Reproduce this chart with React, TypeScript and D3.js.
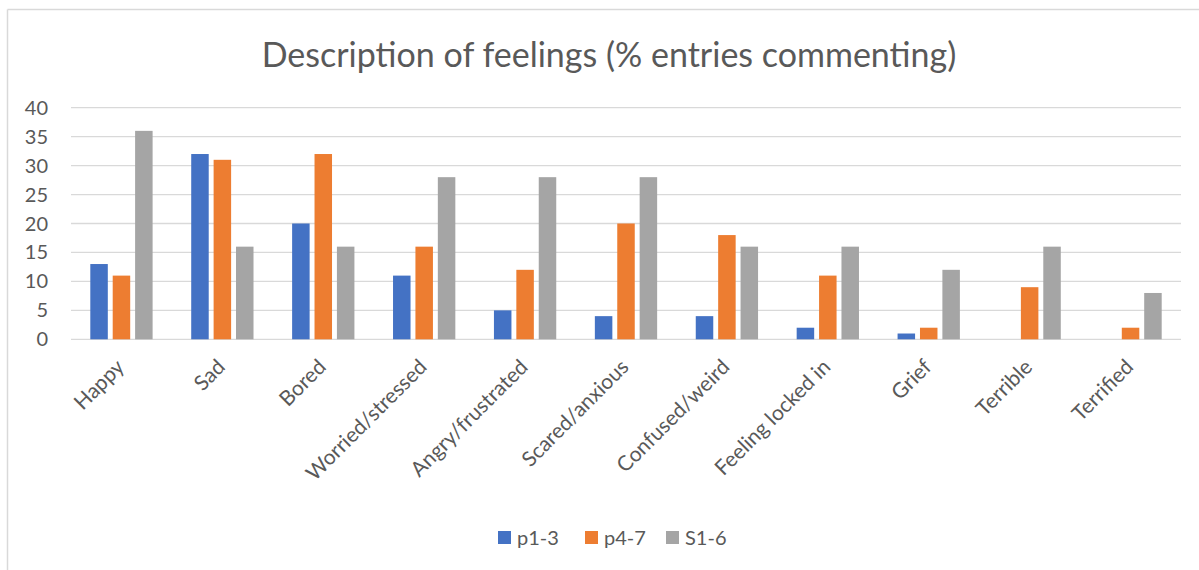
import React from "react";
import * as d3 from "d3";

const categories = [
  "Happy",
  "Sad",
  "Bored",
  "Worried/stressed",
  "Angry/frustrated",
  "Scared/anxious",
  "Confused/weird",
  "Feeling locked in",
  "Grief",
  "Terrible",
  "Terrified",
];
const seriesNames = ["p1-3", "p4-7", "S1-6"];
const p13 = [13, 32, 20, 11, 5, 4, 4, 2, 1, 0, 0];
const p47 = [11, 31, 32, 16, 12, 20, 18, 11, 2, 9, 2];
const s16 = [36, 16, 16, 28, 28, 28, 16, 16, 12, 16, 8];
const seriesValues = [p13, p47, s16];
const colors = ["#4472C4", "#ED7D31", "#A5A5A5"];
const yTicks = [0, 5, 10, 15, 20, 25, 30, 35, 40];
const title = "Description of feelings (% entries commenting)";

const W = 1199;
const H = 570;
const FONT = "Lato, 'Open Sans', sans-serif";
const TEXT = "#595959";
const GRID = "#d9d9d9";

export default function App() {
  const plotLeft = 71;
  const plotRight = 1181;
  const plotTop = 107.7;
  const plotBottom = 339.3;

  const x = d3
    .scaleBand<string>()
    .domain(categories)
    .range([plotLeft, plotRight])
    .paddingInner(0)
    .paddingOuter(0);
  const y = d3.scaleLinear().domain([0, 40]).range([plotBottom, plotTop]);

  const bw = x.bandwidth();
  const barW = 17.5;
  const step = 22.4;
  const groupW = step * 2 + barW;

  const legendItems = [
    { sq: 498, tx: 517 },
    { sq: 585, tx: 604 },
    { sq: 666, tx: 685 },
  ];

  return (
    <svg
      width={W}
      height={H}
      style={{ position: "absolute", left: 0, top: 0, background: "#fff" }}
      fontFamily={FONT}
    >
      <rect x={0} y={0} width={W} height={H} fill="#fff" />
      {/* chart border */}
      <line x1={7.5} x2={W} y1={9.5} y2={9.5} stroke={GRID} strokeWidth={1.5} />
      <line x1={7.5} x2={7.5} y1={9.5} y2={H} stroke={GRID} strokeWidth={1.5} />

      <text x={609} y={67} textAnchor="middle" fontSize={34} fill={TEXT}>
        {title}
      </text>

      {/* gridlines */}
      {yTicks.map((t) => (
        <g key={t}>
          <line
            x1={plotLeft}
            x2={plotRight}
            y1={y(t)}
            y2={y(t)}
            stroke={GRID}
            strokeWidth={1.3}
          />
          <text
            x={48}
            y={y(t) + 7}
            textAnchor="end"
            fontSize={20}
            fill={TEXT}
          >
            {t}
          </text>
        </g>
      ))}

      {/* bars */}
      {categories.map((c, ci) => {
        const cx = (x(c) as number) + bw / 2;
        const start = cx - groupW / 2;
        return (
          <g key={c}>
            {seriesValues.map((vals, si) => {
              const v = vals[ci];
              if (v <= 0) return null;
              return (
                <rect
                  key={si}
                  x={start + si * step}
                  y={y(v)}
                  width={barW}
                  height={y(0) - y(v)}
                  fill={colors[si]}
                />
              );
            })}
            <text
              transform={`translate(${cx + 4},${plotBottom + 29}) rotate(-45)`}
              textAnchor="end"
              fontSize={21}
              fill={TEXT}
            >
              {c}
            </text>
          </g>
        );
      })}

      {/* legend */}
      {seriesNames.map((n, i) => (
        <g key={n}>
          <rect
            x={legendItems[i].sq}
            y={531}
            width={13}
            height={13}
            fill={colors[i]}
          />
          <text x={legendItems[i].tx} y={544.5} fontSize={20} fill={TEXT}>
            {n}
          </text>
        </g>
      ))}
    </svg>
  );
}
